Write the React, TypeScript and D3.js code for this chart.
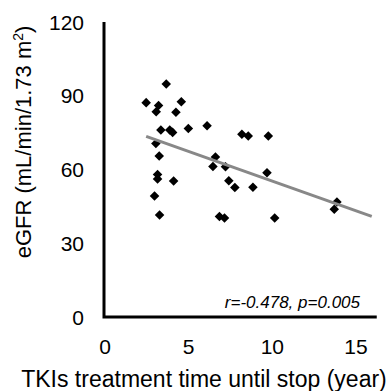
import { useEffect, useRef } from "react";
import * as d3 from "d3";

// treatment time (year) and eGFR values
const years = [
  3.72, 2.52, 3.26, 3.12, 4.62, 4.3, 3.4, 3.93, 4.1, 5.04, 6.16, 8.24, 8.62,
  9.82, 3.1, 3.3, 6.66, 6.51, 7.26, 9.74, 3.2, 3.2, 4.16, 7.46, 7.82, 8.9,
  3.02, 3.32, 6.9, 7.2, 10.2, 13.92, 13.76,
];
const egfr = [
  94.8, 87.2, 86.0, 83.5, 87.6, 83.3, 76.1, 76.1, 75.1, 76.7, 77.8, 74.3, 73.6,
  73.6, 70.6, 65.5, 65.1, 61.2, 61.1, 58.7, 58.0, 56.1, 55.3, 55.4, 52.7, 52.8,
  49.2, 41.5, 40.9, 40.3, 40.3, 46.8, 43.8,
];
const xTicks = [0, 5, 10, 15];
const yTicks = [0, 30, 60, 90, 120];
const xTitle = "TKIs treatment time until stop (year)";
const statsLabel = "r=-0.478, p=0.005";

const width = 388;
const height = 391;

export default function App() {
  const svgRef = useRef<SVGSVGElement>(null);

  useEffect(() => {
    if (!svgRef.current) return;
    const svg = d3.select(svgRef.current);
    svg.selectAll("*").remove();

    const font = "'Liberation Sans', Arial, sans-serif";
    const x = d3.scaleLinear().domain([0, 15]).range([104, 355]);
    const y = d3.scaleLinear().domain([0, 120]).range([317, 22]);

    // trend line (least squares)
    const mx = d3.mean(years)!;
    const my = d3.mean(egfr)!;
    let sxy = 0;
    let sxx = 0;
    years.forEach((v, i) => {
      sxy += (v - mx) * (egfr[i] - my);
      sxx += (v - mx) * (v - mx);
    });
    const slope = sxy / sxx;
    const icpt = my - slope * mx;
    const x0 = d3.min(years)!;
    const x1 = 16;

    // axes lines
    svg
      .append("path")
      .attr("d", `M${x(0)},${y(120)}V${y(0)}H${x(16.3)}`)
      .attr("fill", "none")
      .attr("stroke", "#000")
      .attr("stroke-width", 3);

    svg
      .append("g")
      .selectAll("text")
      .data(yTicks)
      .join("text")
      .attr("x", 84)
      .attr("y", (d) => y(d) + 7.5)
      .attr("text-anchor", "end")
      .attr("font-family", font)
      .attr("font-size", 21)
      .text((d) => d);

    svg
      .append("g")
      .selectAll("text")
      .data(xTicks)
      .join("text")
      .attr("x", (d) => x(d) + 1)
      .attr("y", 353.5)
      .attr("text-anchor", "middle")
      .attr("font-family", font)
      .attr("font-size", 21)
      .text((d) => d);

    svg
      .append("text")
      .attr("x", 204)
      .attr("y", 387)
      .attr("text-anchor", "middle")
      .attr("font-family", font)
      .attr("font-size", 23)
      .text(xTitle);

    const yl = svg
      .append("text")
      .attr("transform", "translate(31,142) rotate(-90)")
      .attr("text-anchor", "middle")
      .attr("font-family", font)
      .attr("font-size", 22);
    yl.append("tspan").text("eGFR (mL/min/1.73 m");
    yl.append("tspan").attr("font-size", 14).attr("dy", -8).text("2");
    yl.append("tspan").attr("dy", 8).text(")");

    // points
    const diamond = d3.symbol(d3.symbolDiamond2, 58);
    svg
      .append("g")
      .selectAll("path")
      .data(years)
      .join("path")
      .attr("transform", (d, i) => `translate(${x(d)},${y(egfr[i])})`)
      .attr("d", diamond() as string)
      .attr("fill", "#000");

    svg
      .append("line")
      .attr("x1", x(x0))
      .attr("y1", y(icpt + slope * x0))
      .attr("x2", x(x1))
      .attr("y2", y(icpt + slope * x1))
      .attr("stroke", "#888")
      .attr("stroke-width", 3);

    svg
      .append("text")
      .attr("x", 360)
      .attr("y", 308)
      .attr("text-anchor", "end")
      .attr("font-family", font)
      .attr("font-size", 17)
      .attr("font-style", "italic")
      .text(statsLabel);
  }, []);

  return (
    <svg
      ref={svgRef}
      width={width}
      height={height}
      style={{ position: "absolute", left: 0, top: 0, background: "#fff" }}
    />
  );
}
